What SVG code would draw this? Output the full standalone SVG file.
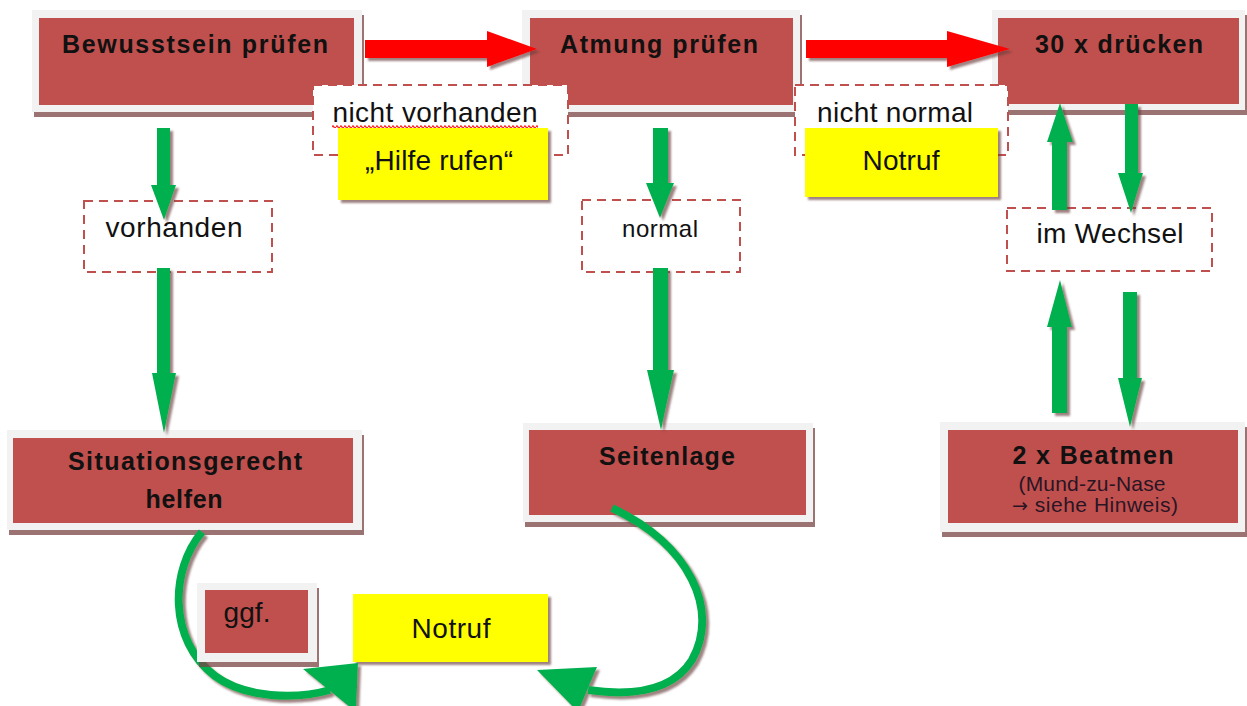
<svg xmlns="http://www.w3.org/2000/svg" width="1247" height="706" viewBox="0 0 1247 706">
<defs>
<filter id="bs" x="-5%" y="-10%" width="115%" height="130%"><feDropShadow dx="2" dy="5" stdDeviation="0.7" flood-color="#7a4545" flood-opacity="0.75"/></filter>
<filter id="as" x="-10%" y="-20%" width="130%" height="150%"><feDropShadow dx="3" dy="3" stdDeviation="1" flood-color="#6a4040" flood-opacity="0.65"/></filter>
<pattern id="wave" x="0" y="0" width="4" height="4" patternUnits="userSpaceOnUse"><path d="M0 3 Q1 0.5 2 3 T4 3" fill="none" stroke="#ff0000" stroke-width="1.2"/></pattern>
</defs>
<style>
.frame{fill:#f2f2f2}
.red{fill:#c0504d}
.dash{fill:#fff;stroke:#c0504d;stroke-width:2;stroke-dasharray:9 6}
.yel{fill:#ffff00}
.t{font-family:"Liberation Sans",Arial,sans-serif;fill:#111;text-anchor:middle}
.b{font-weight:bold;font-size:25px}
.n{font-size:28px}
.g{fill:#00b050}
.gs{fill:none;stroke:#00b050;stroke-width:8}
.ra{fill:#ff0000}
.sm{font-size:21px;fill:#2a1525}
</style>
<rect width="1247" height="706" fill="#fff"/>

<g id="bewusstsein">
<rect class="frame" x="32" y="10" width="330" height="102" filter="url(#bs)"/>
<rect class="red" x="39" y="18" width="315" height="87"/>
<text class="t b" x="195" y="53" textLength="266" lengthAdjust="spacing">Bewusstsein prüfen</text>
</g>
<g id="atmung">
<rect class="frame" x="522" y="10" width="278" height="102" filter="url(#bs)"/>
<rect class="red" x="530" y="18" width="263" height="87"/>
<text class="t b" x="659" y="53" textLength="198" lengthAdjust="spacing">Atmung prüfen</text>
</g>
<g id="druecken">
<rect class="frame" x="992" y="10" width="253" height="100" filter="url(#bs)"/>
<rect class="red" x="998" y="18" width="241" height="86"/>
<text class="t b" x="1119" y="53" textLength="168" lengthAdjust="spacing">30 x drücken</text>
</g>
<g id="situation">
<rect class="frame" x="7" y="430" width="355" height="100" filter="url(#bs)"/>
<rect class="red" x="13" y="438" width="340" height="85"/>
<text class="t b" x="185" y="470" textLength="234" lengthAdjust="spacing">Situationsgerecht</text>
<text class="t b" x="184" y="508" textLength="77" lengthAdjust="spacing">helfen</text>
</g>
<g id="seitenlage">
<rect class="frame" x="523" y="423" width="290" height="99" filter="url(#bs)"/>
<rect class="red" x="529" y="430" width="277" height="85"/>
<text class="t b" x="667" y="465" textLength="136" lengthAdjust="spacing">Seitenlage</text>
</g>
<g id="beatmen">
<rect class="frame" x="940" y="422" width="305" height="110" filter="url(#bs)"/>
<rect class="red" x="948" y="430" width="290" height="93"/>
<text class="t b" x="1093" y="464" textLength="161" lengthAdjust="spacing">2 x Beatmen</text>
<text class="t sm" x="1092" y="491" textLength="147" lengthAdjust="spacing">(Mund-zu-Nase</text>
<text class="t sm" x="1095" y="512" textLength="166" lengthAdjust="spacing"><tspan font-family="DejaVu Sans" font-size="19">→</tspan> siehe Hinweis)</text>
</g>

<g id="nicht-vorhanden">
<rect class="dash" x="313" y="85" width="255" height="70"/>
<text class="t n" x="435" y="122" textLength="205" lengthAdjust="spacing">nicht vorhanden</text>
<rect x="332" y="124" width="206" height="4" fill="url(#wave)"/>
</g>
<g id="hilfe-rufen">
<rect class="yel" x="338" y="128" width="210" height="72" filter="url(#as)"/>
<text class="t n" x="439" y="170" textLength="148" lengthAdjust="spacing">„Hilfe rufen“</text>
</g>
<g id="nicht-normal">
<rect class="dash" x="795" y="85" width="213" height="70"/>
<text class="t n" x="895" y="122" textLength="156" lengthAdjust="spacing">nicht normal</text>
</g>
<g id="notruf-oben">
<rect class="yel" x="805" y="128" width="193" height="69" filter="url(#as)"/>
<text class="t n" x="901" y="170" textLength="77" lengthAdjust="spacing">Notruf</text>
</g>
<g id="vorhanden">
<rect class="dash" x="84" y="201" width="188" height="71"/>
<text class="t n" x="174" y="237" textLength="137" lengthAdjust="spacing">vorhanden</text>
</g>
<g id="normal">
<rect class="dash" x="582" y="200" width="158" height="72"/>
<text class="t" x="660" y="237" font-size="24" textLength="76" lengthAdjust="spacing">normal</text>
</g>
<g id="im-wechsel">
<rect class="dash" x="1007" y="208" width="205" height="63"/>
<text class="t n" x="1110" y="243" textLength="147" lengthAdjust="spacing">im Wechsel</text>
</g>
<g id="notruf-unten">
<rect class="yel" x="353" y="594" width="195" height="68" filter="url(#as)"/>
<text class="t n" x="451" y="638" textLength="79" lengthAdjust="spacing">Notruf</text>
</g>

<g id="connectors">
<g filter="url(#as)">
<path class="ra" d="M365 40 H487 V31 L537 49 L487 67 V58 H365 Z"/>
<path class="ra" d="M806 40 H947 V31 L1010 49 L947 67 V58 H806 Z"/>
</g>
<g filter="url(#as)">
<path class="g" d="M157 128 H170 V185 H176 L164 220 L151 185 H157 Z"/>
<path class="g" d="M157 268 H170 V373 H176 L164 433 L152 373 H157 Z"/>
<path class="g" d="M653 128 H668 V183 H674 L660 218 L646 183 H653 Z"/>
<path class="g" d="M653 268 H668 V370 H674 L661 430 L647 370 H653 Z"/>
<path class="g" d="M1052 210 V142 H1047 L1060 103 L1073 142 H1067 V210 Z"/>
<path class="g" d="M1125 104 H1138 V173 H1143 L1131 213 L1118 173 H1125 Z"/>
<path class="g" d="M1052 413 V327 H1047 L1060 280 L1072 327 H1067 V413 Z"/>
<path class="g" d="M1123 292 H1137 V378 H1142 L1130 427 L1118 378 H1123 Z"/>
<path class="gs" d="M202 532 C170 570 168 640 215 676 C245 698 295 700 330 690"/>
<path class="g" d="M303 669 L358 663 L356 712 Z"/>
<path class="gs" d="M612 508 C690 545 720 610 692 660 C672 692 630 696 588 690"/>
<path class="g" d="M597 667 L537 670 L578 712 Z"/>
</g>
</g>

<g id="ggf">
<rect class="frame" x="197" y="583" width="120" height="79" filter="url(#bs)"/>
<rect class="red" x="205" y="590" width="103" height="63"/>
<text class="t n" x="247" y="622" textLength="47" lengthAdjust="spacing">ggf.</text>
</g>
</svg>
